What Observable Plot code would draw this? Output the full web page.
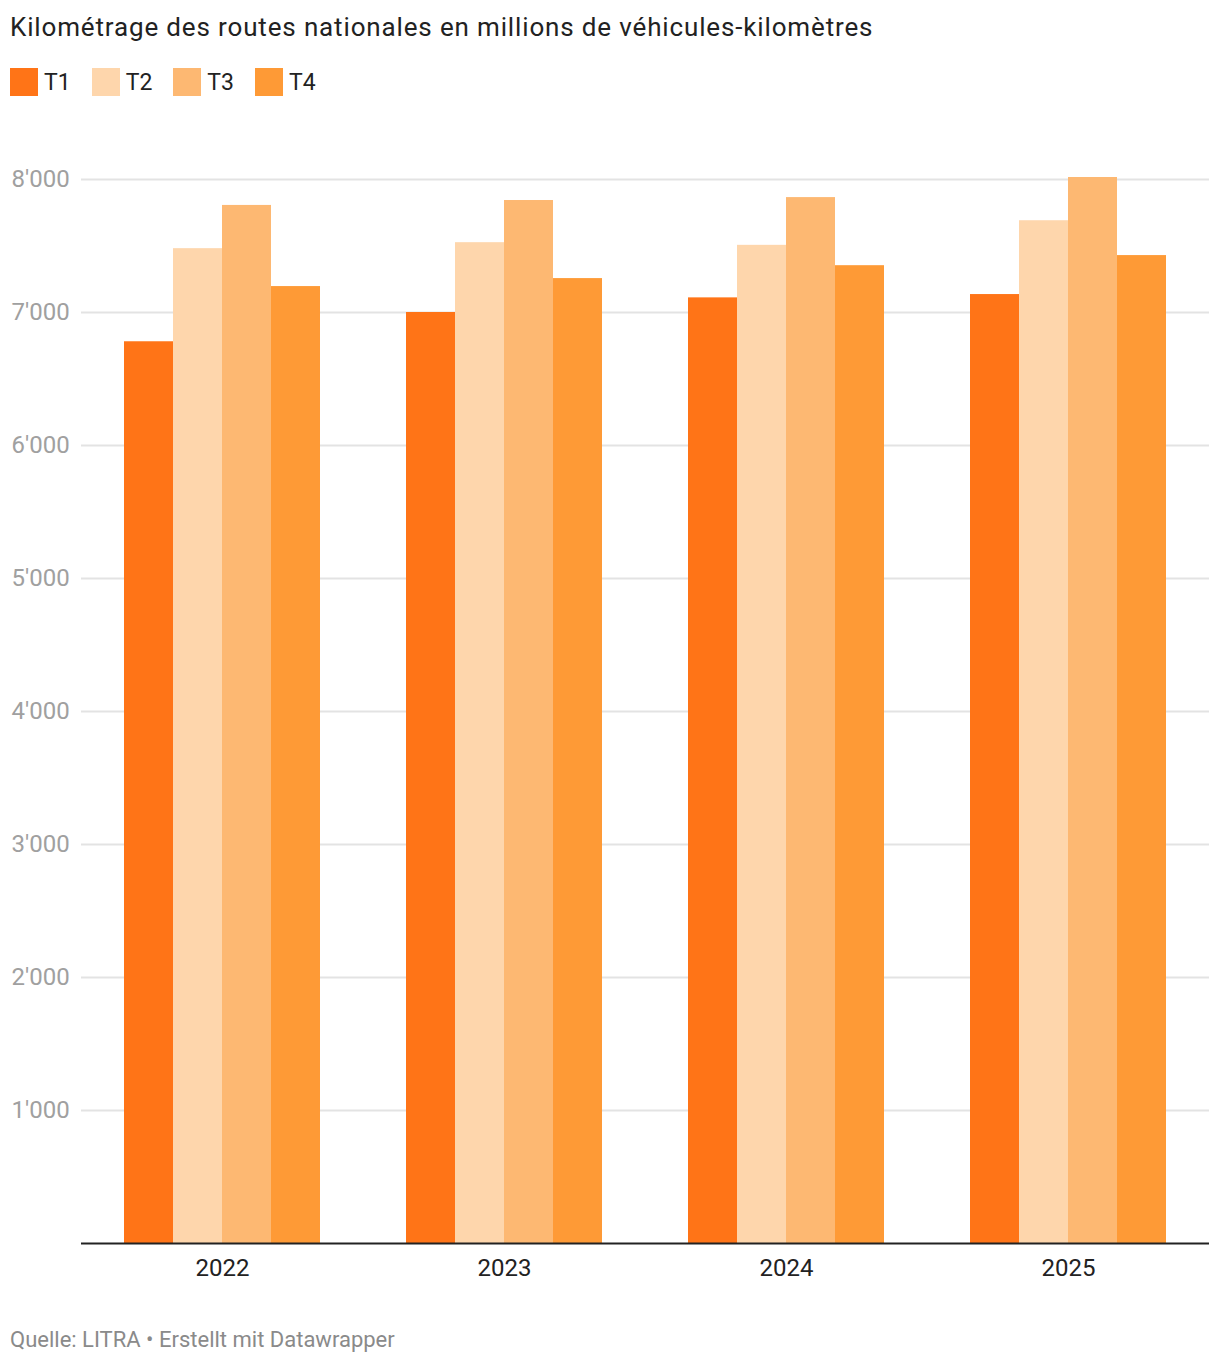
<!DOCTYPE html>
<html>
<head>
<meta charset="utf-8">
<script src="https://cdn.jsdelivr.net/npm/d3@7"></script>
<script src="https://cdn.jsdelivr.net/npm/@observablehq/plot@0.6"></script>
<style>
  body { margin: 0; background: #fff; font-family: Roboto, "Noto Sans", sans-serif; color: #222; }
  #title { padding: 12px 0 0 10px; font-size: 26px; letter-spacing: 0.85px; line-height: 30px; margin: 0; font-weight: 400; }
  #legend { display: flex; align-items: center; margin: 26px 0 0 10px; height: 28px; font-size: 23px; }
  .item { display: flex; align-items: center; margin-right: 21px; }
  .sw { width: 28px; height: 28px; margin-right: 6px; }
  #chart svg { display: block; margin-top: 34px; }
  #caption { margin: 37px 0 0 10px; font-size: 22px; line-height: 26px; color: #8a8a8a; }
</style>
</head>
<body>
<div id="title">Kilométrage des routes nationales en millions de véhicules-kilomètres</div>
<div id="legend"></div>
<div id="chart"></div>
<div id="caption">Quelle: LITRA • Erstellt mit Datawrapper</div>
<script>
const years = ["2022", "2023", "2024", "2025"];
const quarters = ["T1", "T2", "T3", "T4"];
const t1 = [6780, 7000, 7110, 7135];
const t2 = [7480, 7525, 7505, 7690];
const t3 = [7805, 7842, 7864, 8015];
const t4 = [7195, 7255, 7352, 7428];
const colors = ["#ff7417", "#fed6ac", "#fdb872", "#fe9a36"];
const yTicks = [1000, 2000, 3000, 4000, 5000, 6000, 7000, 8000];

const series = [t1, t2, t3, t4];
const data = [];
years.forEach((yr, i) => quarters.forEach((q, j) => data.push({year: yr, quarter: q, value: series[j][i]})));

const fmt = d3.formatLocale({decimal: ".", thousands: "'", grouping: [3], currency: ["", ""]}).format(",");

const legend = document.getElementById("legend");
quarters.forEach((q, j) => {
  const it = document.createElement("div");
  it.className = "item";
  it.innerHTML = `<div class="sw" style="background:${colors[j]}"></div><span>${q}</span>`;
  legend.appendChild(it);
});

const chart = Plot.plot({
  width: 1220,
  height: 1160,
  marginTop: 49,
  marginBottom: 47,
  marginLeft: 80,
  marginRight: 10,
  style: {fontFamily: "Roboto, sans-serif", fontSize: "24px", color: "#222", background: "#fff"},
  fx: {domain: years, padding: 0, label: null, axis: "bottom", tickSize: 0, tickPadding: 15},
  x: {domain: quarters, paddingInner: 0, paddingOuter: 0.853, axis: null},
  y: {domain: [0, 8000]},
  color: {domain: quarters, range: colors},
  marks: [
    Plot.ruleY(yTicks, {y: d => d, stroke: "#e3e3e3", strokeWidth: 2}),
    Plot.axisY(yTicks, {tickSize: 0, tickPadding: 70, textAnchor: "start", tickFormat: fmt, color: "#a0a0a0", fontSize: 24, label: null}),
    Plot.barY(data, {fx: "year", x: "quarter", y: "value", fill: "quarter"}),
    Plot.ruleY([0], {stroke: "#222", strokeWidth: 2})
  ]
});
document.getElementById("chart").appendChild(chart);
</script>
</body>
</html>
